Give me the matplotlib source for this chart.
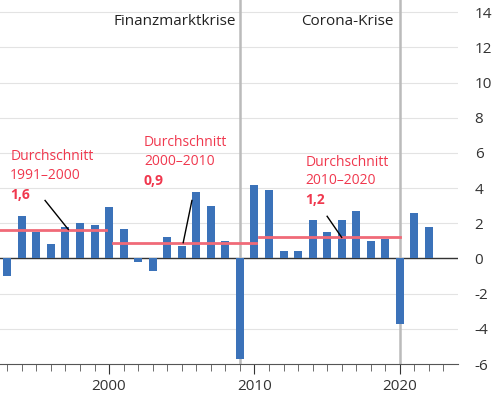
import matplotlib
matplotlib.use("Agg")
import matplotlib.pyplot as plt
import numpy as np

years = list(range(1993, 2023))
values = [-1.0, 2.4, 1.5, 0.8, 1.8, 2.0, 1.9, 2.9, 1.7, -0.2, -0.7, 1.2, 0.7, 3.8, 3.0, 1.0,
          -5.7, 4.2, 3.9, 0.4, 0.4, 2.2, 1.5, 2.2, 2.7, 1.0, 1.1, -3.7, 2.6, 1.8]
avg_labels = ["Durchschnitt\n1991–2000", "Durchschnitt\n2000–2010", "Durchschnitt\n2010–2020"]
avg_values = [1.6, 0.9, 1.2]
avg_spans = [(1991, 1999.8), (2000.3, 2010.1), (2010.3, 2020)]
yticks = [-6, -4, -2, 0, 2, 4, 6, 8, 10, 12, 14]

plt.rcParams['font.family'] = ['Open Sans', 'DejaVu Sans']
fig = plt.figure(figsize=(4.95, 4.0), dpi=100)
ax = fig.add_axes([0, 0.09, 458/495, 0.91])
ax.set_xlim(1992.5, 2024.0)
ax.set_ylim(-6, 14.7)
for y in yticks:
    if y != -6:
        ax.axhline(y, color='#e3e3e3', lw=0.8, zorder=0)
ax.axhline(0, color='#333333', lw=1, zorder=1)
for xl in [2009, 2020]:
    ax.axvline(xl, color='#bbbbbb', lw=1.8, zorder=1)
ax.bar(years, values, width=0.55, color='#3b72b9', zorder=2)
for (a, b), v in zip(avg_spans, avg_values):
    ax.plot([a, b], [v, v], color='#f06a78', lw=2, zorder=3)

red = '#f0384e'
txt = [(1993.2, 6.2), (2002.4, 7.0), (2013.5, 5.9)]
ptr = [((1995.6, 3.3), (1997.2, 1.65)), ((2005.7, 3.3), (2005.1, 0.9)), ((2015.0, 2.4), (2016.0, 1.2))]
for lab, v, (x, y), (p0, p1) in zip(avg_labels, avg_values, txt, ptr):
    ax.text(x, y, lab, color=red, fontsize=10, va='top', ha='left', linespacing=1.3)
    ax.text(x, y - 2.2, f"{v:.1f}".replace('.', ','), color=red, fontsize=10,
            fontweight='bold', va='top', ha='left')
    ax.plot([p0[0], p1[0]], [p0[1], p1[1]], color='black', lw=1, zorder=4)

ax.text(2008.7, 13.5, "Finanzmarktkrise", ha='right', va='center', fontsize=11, color='#222222')
ax.text(2019.6, 13.5, "Corona-Krise", ha='right', va='center', fontsize=11, color='#222222')

ax.yaxis.tick_right()
ax.set_yticks(yticks)
ax.set_yticklabels([str(t) for t in yticks], fontsize=11, color='#333333')
ax.tick_params(axis='y', length=0, pad=12)
ax.set_xticks([2000, 2010, 2020])
ax.set_xticks(range(1993, 2024), minor=True)
ax.tick_params(axis='x', which='major', length=7, labelsize=11, colors='#333333')
ax.tick_params(axis='x', which='minor', length=5, color='#555555')
for s in ['top', 'left', 'right']:
    ax.spines[s].set_visible(False)
ax.spines['bottom'].set_color('#555555')
fig.savefig("out.png", dpi=100)
